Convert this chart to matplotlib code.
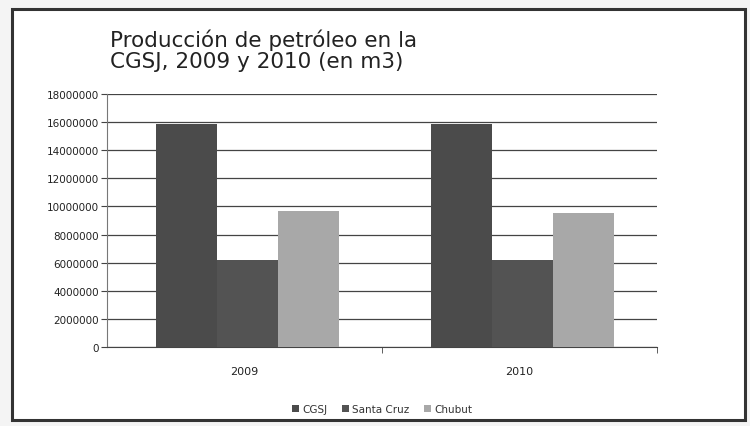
import matplotlib.pyplot as plt
from matplotlib.patches import Rectangle
import numpy as np

# DATA
years = ['2009', '2010']
series = ['CGSJ', 'Santa Cruz', 'Chubut']
cgsj = [15900000, 15900000]
santa_cruz = [6200000, 6200000]
chubut = [9700000, 9550000]
yticks = list(range(0, 18000001, 2000000))

# STYLE
COLORS = ['#4b4b4b', '#535353', '#a8a8a8']
BAR_W = 0.222

fig = plt.figure(figsize=(7.5, 4.27), dpi=100)
fig.patch.set_facecolor('#f4f4f4')

# chart frame (white box with dark border), kept behind the axes
frame = Rectangle((12 / 750, 6 / 427), 733 / 750, 411 / 427, transform=fig.transFigure,
                  facecolor='white', edgecolor='#333333', linewidth=2.2, zorder=-1)
fig.patches.append(frame)

ax = fig.add_axes([107 / 750, 1 - 348 / 427, 550 / 750, 253 / 427])
ax.set_zorder(2)
ax.set_facecolor('white')

x = np.arange(len(years))
for i, (name, vals) in enumerate(zip(series, [cgsj, santa_cruz, chubut])):
    ax.bar(x + 0.012 + (i - 1) * BAR_W, vals, width=BAR_W, color=COLORS[i], label=name, zorder=3)

ax.set_xlim(-0.5, 1.5)
ax.set_ylim(0, 18000000)
ax.set_yticks(yticks)
ax.set_yticklabels([str(v) for v in yticks], fontsize=7.5, color='#222222')
ax.yaxis.grid(True, color='#444444', linewidth=0.9, zorder=1)

ax.set_xticks(x)
ax.set_xticklabels(years, fontsize=8, color='#222222')
ax.tick_params(axis='x', length=0, pad=14)
ax.set_xticks([0.5, 1.5], minor=True)
ax.tick_params(axis='x', which='minor', length=4, color='#444444')
ax.tick_params(axis='y', length=4, color='#444444', pad=2)

for s in ['top', 'right']:
    ax.spines[s].set_visible(False)
ax.spines['left'].set_color('#777777')
ax.spines['bottom'].set_color('#444444')

fig.text(110 / 750, 1 - 51 / 427, 'Producción de petróleo en la\nCGSJ, 2009 y 2010 (en m3)',
         fontsize=15.5, color='#222222', ha='left', va='center', linespacing=1.05)

ax.legend(loc='upper center', bbox_to_anchor=(0.5, -0.19), ncol=3, frameon=False,
          fontsize=7.5, handlelength=0.7, handleheight=0.7, handletextpad=0.3,
          columnspacing=1.4, labelcolor='#333333')

fig.savefig('out.png', dpi=100)
